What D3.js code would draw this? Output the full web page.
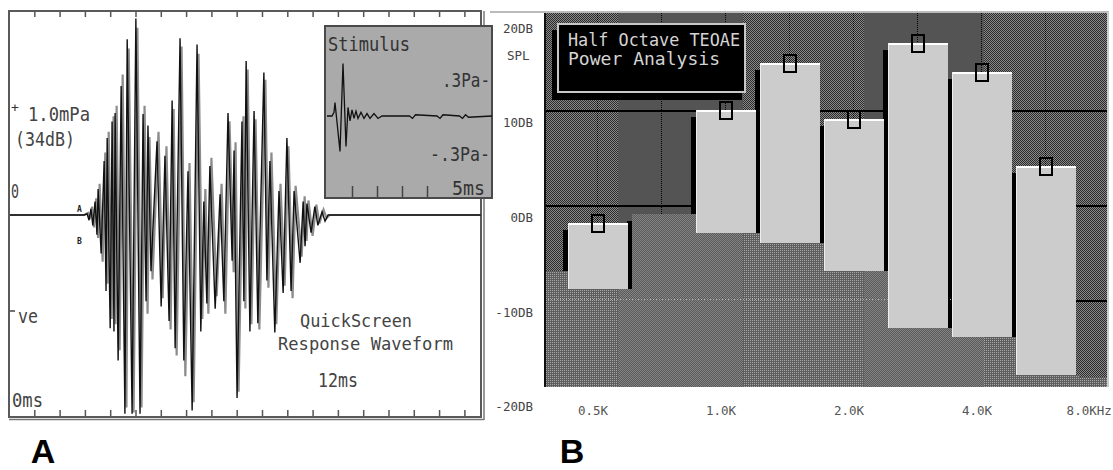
<!DOCTYPE html>
<html>
<head>
<meta charset="utf-8">
<script src="https://cdn.jsdelivr.net/npm/d3@7/dist/d3.min.js"></script>
<style>
  body { margin: 0; background: #fff; }
  svg { display: block; }
  text { font-family: "DejaVu Sans Mono", "Liberation Mono", monospace; }
</style>
</head>
<body>
<div id="chart"></div>
<script>
// ---- panel A: response waveform, two replicate buffers (ms, mPa)
const timeA = [0, 1.99, 2.07, 2.12, 2.17, 2.22, 2.28, 2.33, 2.36, 2.44, 2.52, 2.57, 2.60, 2.68, 2.73, 2.78, 2.81, 2.89, 2.97, 3.07,
  3.13, 3.26, 3.36, 3.47, 3.55, 3.63, 3.68, 3.76, 3.92, 4.03, 4.13, 4.24, 4.32, 4.40, 4.53, 4.63, 4.74, 4.85, 4.98, 5.08,
  5.16, 5.24, 5.32, 5.46, 5.59, 5.69, 5.80, 5.91, 5.96, 6.04, 6.17, 6.22, 6.28, 6.38, 6.49, 6.59, 6.75, 6.83, 6.91, 7.04,
  7.15, 7.26, 7.36, 7.47, 7.55, 7.71, 7.79, 7.84, 7.89, 8.00, 8.10, 8.18, 8.29, 8.37, 8.45, 12.5];
const traceA = [0, 0, 0.01, -0.05, 0.06, -0.10, 0.13, -0.19, 0.25, -0.37, 0.52, -0.73, 0.74, -1.09, 0.90, -1.12, 0.98, -1.40, 1.24, -1.91,
  1.69, -1.91, 1.89, -1.91, 0.97, -0.83, 0.86, -0.54, 0.71, -0.88, 0.57, -1.02, 1.10, -1.28, 1.70, -1.40, 0.42, -1.88, 1.64, -1.12,
  0.13, -0.85, 0.47, -0.90, 0.20, -0.83, 0.98, -0.44, 0.62, -1.76, 0.90, -0.83, 1.48, -1.12, 1.00, -1.04, 1.37, -0.63, 0.52, -1.13,
  0.23, -0.75, 0.74, -0.73, 0.23, -0.46, 0.13, -0.30, 0.11, -0.17, 0.08, -0.10, 0.03, -0.06, 0, 0];
const timeB = [0, 1.99, 2.09, 2.14, 2.20, 2.25, 2.31, 2.36, 2.40, 2.48, 2.55, 2.61, 2.64, 2.72, 2.77, 2.82, 2.85, 2.93, 3.01, 3.11,
  3.17, 3.30, 3.40, 3.51, 3.59, 3.67, 3.72, 3.80, 3.96, 4.07, 4.17, 4.28, 4.36, 4.44, 4.57, 4.67, 4.78, 4.89, 5.02, 5.12,
  5.20, 5.28, 5.36, 5.50, 5.63, 5.73, 5.84, 5.95, 6.00, 6.08, 6.21, 6.26, 6.32, 6.42, 6.53, 6.63, 6.79, 6.87, 6.95, 7.08,
  7.19, 7.30, 7.40, 7.51, 7.59, 7.75, 7.83, 7.88, 7.93, 8.04, 8.14, 8.22, 8.33, 8.41, 8.49, 12.5];
const traceB = [0, 0, 0.02, -0.04, 0.08, -0.12, 0.16, -0.22, 0.30, -0.45, 0.60, -0.66, 0.80, -1.00, 0.95, -1.05, 1.05, -1.30, 1.35, -1.85,
  1.60, -1.90, 1.80, -1.85, 1.05, -0.95, 0.75, -0.62, 0.80, -0.80, 0.66, -1.10, 1.02, -1.35, 1.62, -1.55, 0.50, -1.80, 1.55, -1.00,
  0.25, -0.95, 0.55, -0.78, 0.30, -0.95, 0.90, -0.55, 0.70, -1.70, 0.95, -0.90, 1.40, -1.05, 0.92, -1.10, 1.30, -0.70, 0.60, -1.05,
  0.30, -0.68, 0.66, -0.80, 0.28, -0.40, 0.18, -0.25, 0.14, -0.20, 0.10, -0.08, 0.05, -0.03, 0, 0];

// stimulus inset (ms, Pa)
const stimTime = [0, 0.20, 0.28, 0.32, 0.40, 0.52, 0.64, 0.76, 0.84, 0.92, 1.00, 1.08, 1.16, 1.24, 1.36, 1.48, 1.60, 1.72, 1.88, 2.04,
  2.20, 3.30, 3.42, 3.54, 4.40, 4.52, 4.64, 5.30, 5.42, 5.54, 5.66, 6.60];
const stimPa = [0, 0, 0.03, 0.11, -0.05, -0.29, 0.43, -0.25, 0.07, -0.04, 0.05, -0.02, 0.04, -0.02, 0.03, -0.02, 0.02, -0.02, 0.02, -0.02,
  0, 0, -0.02, 0.01, 0, -0.02, 0.01, 0, -0.02, 0.01, -0.01, 0];
const stimTicks = [1, 2, 3, 4];

// ---- panel B: half octave power analysis (kHz, dB SPL)
const bandFreqs = [0.354, 0.5, 0.707, 1, 1.414, 2, 2.828, 4, 5.657, 8];
const responseDb = [null, -1.9, -1.0, 10.0, 15.0, 9.1, 17.1, 14.0, 4.1, null];
const noiseDb = [-7.0, -8.9, -1.0, -3.0, -4.0, -7.0, -13.0, -13.9, -18.0, -18.2];
const shadeEdges = [0.56, 1.10, 2.12, 4.07];
const freqTicks = [0.5, 1, 2, 4, 8];
const freqLabels = ['0.5K', '1.0K', '2.0K', '4.0K', '8.0KHz'];
const dbTicks = [20, 10, 0, -10, -20];
const dbLabels = ['20DB', '10DB', '0DB', '-10DB', '-20DB'];

const svg = d3.select('#chart').append('svg')
  .attr('width', 1113).attr('height', 470);
const defs = svg.append('defs');

function pattern(id, bg, dots) {
  const p = defs.append('pattern').attr('id', id)
    .attr('patternUnits', 'userSpaceOnUse').attr('width', 2).attr('height', 2);
  p.append('rect').attr('width', 2).attr('height', 2).attr('fill', bg);
  dots.forEach(([x, y, c]) => p.append('rect').attr('x', x).attr('y', y)
    .attr('width', 1).attr('height', 1).attr('fill', c));
}
pattern('dither', '#8a8a8a', [[0, 0, '#2a2a2a'], [1, 1, '#2a2a2a']]);
pattern('noiseA', '#5e5e5e', [[0, 0, '#a8a8a8']]);
pattern('noiseB', '#5a5a5a', [[0, 0, '#848484'], [1, 1, '#848484']]);

function label(g, x, y, s, size, len, fill) {
  const t = g.append('text').attr('x', x).attr('y', y)
    .style('font-size', size + 'px').style('fill', fill || '#444').text(s);
  if (len) t.attr('textLength', len).attr('lengthAdjust', 'spacingAndGlyphs');
  return t;
}

// ================= panel A =================
const xA = d3.scaleLinear().domain([0, 12.5]).range([9, 481]);
const yA = d3.scaleLinear().domain([-2, 2]).range([423, 7]);
const gA = svg.append('g');

defs.append('clipPath').attr('id', 'clipA').append('rect')
  .attr('x', 10).attr('y', 12).attr('width', 471).attr('height', 405);

const aTicks = d3.range(1, 19).map(k => k * 0.67);
gA.append('g').attr('transform', 'translate(0,11)')
  .call(d3.axisBottom(xA).tickValues(aTicks).tickSize(6).tickFormat(''))
  .call(g => g.select('.domain').remove())
  .selectAll('line').attr('stroke', '#555').attr('stroke-width', 1.5);
gA.append('g').attr('transform', 'translate(0,417)')
  .call(d3.axisTop(xA).tickValues(aTicks).tickSize(7).tickFormat(''))
  .call(g => g.select('.domain').remove())
  .selectAll('line').attr('stroke', '#555').attr('stroke-width', 1.5);

gA.append('rect').attr('x', 9).attr('y', 11).attr('width', 472).attr('height', 406)
  .attr('fill', 'none').attr('stroke', '#5a5a5a').attr('stroke-width', 2);
gA.append('line').attr('x1', 9).attr('x2', 484).attr('y1', 419.5).attr('y2', 419.5)
  .attr('stroke', '#777').attr('stroke-width', 1.5);
gA.append('line').attr('x1', 484).attr('x2', 484).attr('y1', 11).attr('y2', 420)
  .attr('stroke', '#777').attr('stroke-width', 1.5);

const lineA = d3.line().x(d => xA(d[0])).y(d => yA(d[1]));
const wave = gA.append('g').attr('clip-path', 'url(#clipA)');
wave.append('path').datum(d3.zip(timeB, traceB)).attr('d', lineA)
  .attr('fill', 'none').attr('stroke', '#8c8c8c').attr('stroke-width', 2.2);
wave.append('path').datum(d3.zip(timeA, traceA)).attr('d', lineA)
  .attr('fill', 'none').attr('stroke', '#111').attr('stroke-width', 1.4);

label(gA, 11, 112, '+', 13, null, '#333');
label(gA, 28, 121, '1.0mPa', 19, 62);
label(gA, 15, 146, '(34dB)', 19, 60);
label(gA, 11, 198, '0', 19, 8);
gA.append('line').attr('x1', 10).attr('x2', 15).attr('y1', 311).attr('y2', 311)
  .attr('stroke', '#444').attr('stroke-width', 1.5);
label(gA, 18, 323, 've', 19, 20);
label(gA, 12, 407, '0ms', 19, 31);
label(gA, 300, 327, 'QuickScreen', 18, 112);
label(gA, 278, 350, 'Response Waveform', 18, 175);
label(gA, 318, 387, '12ms', 19, 40);
label(gA, 77, 212, 'A', 8, null, '#222').style('font-weight', 'bold');
label(gA, 77, 244, 'B', 8, null, '#222').style('font-weight', 'bold');

// stimulus inset
const xS = d3.scaleLinear().domain([0, 6.6]).range([327, 492]);
const yS = d3.scaleLinear().domain([-0.7, 0.7]).range([201.4, 30.6]);
const gS = svg.append('g');
gS.append('rect').attr('x', 325).attr('y', 26).attr('width', 167).attr('height', 172)
  .attr('fill', '#aaaaaa').attr('stroke', '#4a4a4a').attr('stroke-width', 2);
gS.append('g').attr('transform', 'translate(0,197)')
  .call(d3.axisTop(xS).tickValues(stimTicks).tickSize(11).tickFormat(''))
  .call(g => g.select('.domain').remove())
  .selectAll('line').attr('stroke', '#444').attr('stroke-width', 1.5);
gS.append('path').datum(d3.zip(stimTime, stimPa))
  .attr('d', d3.line().x(d => xS(d[0])).y(d => yS(d[1])))
  .attr('fill', 'none').attr('stroke', '#111').attr('stroke-width', 1.3);
label(gS, 328, 51, 'Stimulus', 19, 82, '#333');
label(gS, 442, yS(0.3) + 8, '.3Pa-', 19, 48, '#333');
label(gS, 430, yS(-0.3) + 8, '-.3Pa-', 19, 60, '#333');
label(gS, 452, 195, '5ms', 19, 33, '#333');

// ================= panel B =================
const plot = { left: 545, right: 1107, top: 13, bottom: 387 };
const xB = d3.scaleLog().base(2).domain([0.5, 8]).range([597, 1109]);
const yB = d3.scaleLinear().domain([-20, 20]).range([394.4, 15.6]);
const half = Math.pow(2, 0.25);
const bands = bandFreqs.map((f, i) => ({ f, resp: responseDb[i], noise: noiseDb[i] }));

const gB = svg.append('g').attr('shape-rendering', 'crispEdges');
defs.append('clipPath').attr('id', 'clipB').append('rect')
  .attr('x', plot.left).attr('y', plot.top)
  .attr('width', plot.right - plot.left).attr('height', plot.bottom - plot.top);

const edges = [plot.left].concat(shadeEdges.map(f => Math.round(xB(f))), [plot.right]);
const cols = d3.range(edges.length - 1).map(i => ({ x0: edges[i], x1: edges[i + 1], solid: i % 2 === 1 }));
const solidClip = defs.append('clipPath').attr('id', 'clipSolid');
cols.filter(c => c.solid).forEach(c => solidClip.append('rect')
  .attr('x', c.x0).attr('y', plot.top).attr('width', c.x1 - c.x0).attr('height', plot.bottom - plot.top));

const inner = gB.append('g').attr('clip-path', 'url(#clipB)');
inner.selectAll('.col').data(cols).enter().append('rect')
  .attr('x', d => d.x0).attr('y', plot.top)
  .attr('width', d => d.x1 - d.x0).attr('height', plot.bottom - plot.top)
  .attr('fill', d => d.solid ? '#545454' : 'url(#dither)');

inner.selectAll('.grid').data([10, 0, -10]).enter().append('line')
  .attr('x1', plot.left).attr('x2', plot.right)
  .attr('y1', d => Math.round(yB(d)) + 0.5).attr('y2', d => Math.round(yB(d)) + 0.5)
  .attr('stroke', '#000').attr('stroke-width', 2);

const withResp = bands.filter(d => d.resp !== null);
inner.selectAll('.stem').data(withResp).enter().append('line')
  .attr('x1', d => Math.round(xB(d.f)) + 0.5).attr('x2', d => Math.round(xB(d.f)) + 0.5)
  .attr('y1', plot.top).attr('y2', d => yB(Math.max(d.resp, d.noise)))
  .attr('stroke', '#000').attr('stroke-width', 1).attr('stroke-dasharray', '1,1');

inner.selectAll('.shadow').data(withResp).enter().append('rect')
  .attr('x', d => Math.round(xB(d.f / half)) - 2).attr('width', 5)
  .attr('y', d => Math.round(yB(d.resp)) + 7)
  .attr('height', d => plot.bottom - Math.round(yB(d.resp)) - 7)
  .attr('fill', '#000');

function noiseRects(g, fill) {
  g.selectAll('.noise').data(bands).enter().append('rect')
    .attr('x', d => Math.round(xB(d.f / half)) + 3)
    .attr('width', d => Math.round(xB(d.f * half)) - Math.round(xB(d.f / half)))
    .attr('y', d => Math.round(yB(d.noise)))
    .attr('height', d => plot.bottom - Math.round(yB(d.noise)))
    .attr('fill', fill);
}
noiseRects(inner.append('g'), 'url(#noiseA)');
noiseRects(inner.append('g').attr('clip-path', 'url(#clipSolid)'), 'url(#noiseB)');
inner.append('line').attr('x1', plot.left).attr('x2', xB(5.657 / half))
  .attr('y1', Math.round(yB(-10)) - 0.5).attr('y2', Math.round(yB(-10)) - 0.5)
  .attr('stroke', '#b0b0b0').attr('stroke-dasharray', '1,2');

const bars = withResp.filter(d => d.resp > d.noise);
const barG = inner.selectAll('.bar').data(bars).enter().append('g');
barG.append('rect')
  .attr('x', d => Math.round(xB(d.f / half)) + 3)
  .attr('width', d => Math.round(xB(d.f * half)) - Math.round(xB(d.f / half)) - 4)
  .attr('y', d => Math.round(yB(d.resp)))
  .attr('height', d => Math.round(yB(d.noise)) - Math.round(yB(d.resp)))
  .attr('fill', '#cccccc');
barG.append('rect')
  .attr('x', d => Math.round(xB(d.f / half)) + 3)
  .attr('width', d => Math.round(xB(d.f * half)) - Math.round(xB(d.f / half)) - 4)
  .attr('y', d => Math.round(yB(d.resp))).attr('height', 2).attr('fill', '#fff');
barG.append('rect')
  .attr('x', d => Math.round(xB(d.f / half)) + 3).attr('width', 1)
  .attr('y', d => Math.round(yB(d.resp)))
  .attr('height', d => Math.round(yB(d.noise)) - Math.round(yB(d.resp)))
  .attr('fill', '#eee');

inner.selectAll('.marker').data(bars).enter().append('rect')
  .attr('x', d => Math.round(xB(d.f)) - 5.5).attr('width', 12)
  .attr('y', d => Math.round(yB(d.resp)) - 8.5).attr('height', 17)
  .attr('fill', 'none').attr('stroke', '#000').attr('stroke-width', 2);

// frame of panel B
gB.append('line').attr('x1', plot.left).attr('x2', plot.left).attr('y1', plot.top).attr('y2', plot.bottom)
  .attr('stroke', '#111').attr('stroke-width', 2);
gB.append('line').attr('x1', 490).attr('x2', 1109).attr('y1', 12).attr('y2', 12)
  .attr('stroke', '#bbb').attr('stroke-width', 2);
gB.append('line').attr('x1', 1108).attr('x2', 1108).attr('y1', 12).attr('y2', plot.bottom)
  .attr('stroke', '#ccc').attr('stroke-width', 2);

// title box
gB.append('rect').attr('x', 552).attr('y', 30).attr('width', 190).attr('height', 70).attr('fill', '#000');
gB.append('rect').attr('x', 558).attr('y', 24).attr('width', 187).attr('height', 68)
  .attr('fill', '#000').attr('stroke', '#c8c8c8').attr('stroke-width', 2);
svg.append('g').call(g => {
  label(g, 568, 46, 'Half Octave TEOAE', 18, 172, '#d4d4d4');
  label(g, 568, 65, 'Power  Analysis', 18, 152, '#d4d4d4');
});

// axis labels of panel B
const gLab = svg.append('g');
dbTicks.forEach((v, i) => label(gLab, 533, yB(v) + 17, dbLabels[i], 12.5, null, '#444')
  .attr('text-anchor', 'end'));
label(gLab, 507, 60, 'SPL', 12.5, null, '#444');
freqTicks.forEach((f, i) => label(gLab, Math.min(xB(f) - 4, 1112 - freqLabels[i].length * 3.8), 415,
  freqLabels[i], 12.5, null, '#555').attr('text-anchor', 'middle'));

// panel letters
svg.append('text').attr('x', 43).attr('y', 463).attr('text-anchor', 'middle')
  .style('font-family', '"Liberation Sans", Arial, sans-serif').style('font-weight', 'bold')
  .style('font-size', '34px').text('A');
svg.append('text').attr('x', 572).attr('y', 463).attr('text-anchor', 'middle')
  .style('font-family', '"Liberation Sans", Arial, sans-serif').style('font-weight', 'bold')
  .style('font-size', '34px').text('B');
</script>
</body>
</html>
